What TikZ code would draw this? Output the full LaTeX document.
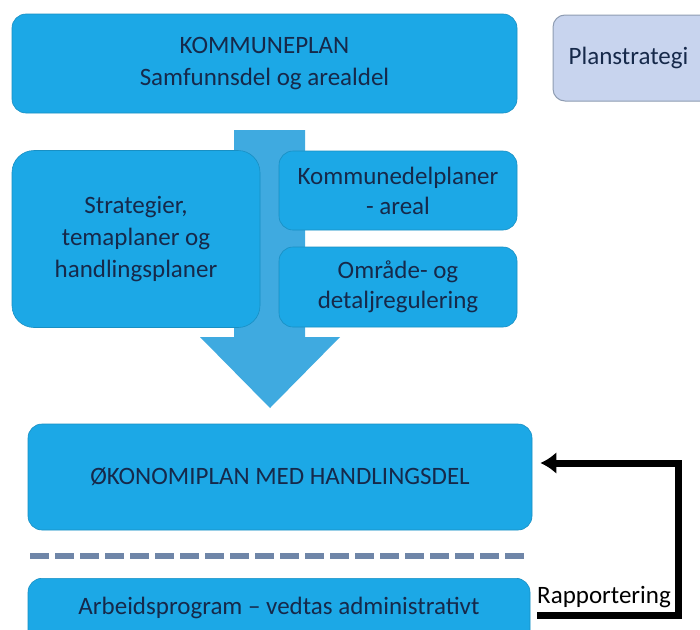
\documentclass[tikz,border=0pt]{standalone}
\usepackage{fontspec}
\setmainfont{Carlito}
\usetikzlibrary{arrows.meta}
\definecolor{boxblue}{HTML}{1CA8E6}
\definecolor{arrowblue}{HTML}{3FAAE0}
\definecolor{txt}{HTML}{16294A}
\definecolor{lav}{HTML}{C8D4EE}
\definecolor{lavedge}{HTML}{8E9CB2}
\definecolor{dashc}{HTML}{6F86A8}
\tikzset{
  bluebox/.style={fill=boxblue, draw=boxblue!85!black, line width=0.6pt, rounded corners=14pt, text=txt, align=center, font=\fontsize{25}{31}\selectfont, inner sep=0pt},
  lavbox/.style={fill=lav, draw=lavedge, line width=1pt, rounded corners=12pt, text=txt, align=center, font=\fontsize{25}{30}\selectfont, inner sep=0pt},
  fb/.style={line width=7pt, draw=black, -{Latex[length=16pt,width=22pt]}},
}
\begin{document}
\begin{tikzpicture}[x=1pt,y=-1pt]
\clip (0,0) rectangle (700,629);
\fill[white] (0,0) rectangle (700,629);
% big block arrow
\fill[arrowblue] (234,130) -- (305,130) -- (305,337) -- (340,337) -- (270,408) -- (200,337) -- (234,337) -- cycle;
% boxes
\node[bluebox, minimum width=505pt, minimum height=99pt, font=\fontsize{25}{32}\selectfont] (kp) at (264.5,63.5) {KOMMUNEPLAN\\Samfunnsdel og arealdel};
\node[lavbox, minimum width=160pt, minimum height=86pt] (ps) at (633,58) {Planstrategi\hspace*{9pt}};
\node[bluebox, minimum width=248pt, minimum height=177pt, rounded corners=22pt, font=\fontsize{25}{32}\selectfont] (st) at (136,239) {Strategier,\\temaplaner og\\handlingsplaner};
\node[bluebox, minimum width=238pt, minimum height=79pt, font=\fontsize{25}{30}\selectfont] (kd) at (398,190.5) {Kommunedelplaner\\- areal};
\node[bluebox, minimum width=238pt, minimum height=80pt, font=\fontsize{25}{30}\selectfont] (od) at (398,287) {Område- og\\detaljregulering};
\node[bluebox, minimum width=504pt, minimum height=106pt] (oko) at (280,477) {ØKONOMIPLAN MED HANDLINGSDEL};
\coordinate (d1) at (30,556);
\coordinate (d2) at (526,556);
\draw[dashc, line width=6pt, dash pattern=on 19pt off 6pt] (d1) -- (d2);
\node[bluebox, minimum width=502pt, minimum height=70pt, anchor=north] (arb) at (279,578) {};
\node[text=txt, font=\fontsize{25}{30}\selectfont, anchor=base] (arbt) at (279,614) {Arbeidsprogram – vedtas administrativt};
% feedback
\coordinate (c1) at (678,615);
\coordinate (c2) at (678,463);
\draw[fb, shorten <=7pt, shorten >=8pt] (arb.east |- c1) -- (c1) -- (c2) -- (oko.east |- c2);
\node[text=black, font=\fontsize{25}{30}\selectfont, anchor=base west, inner sep=0pt] (rp) at (537,603) {Rapportering};
\end{tikzpicture}
\end{document}
